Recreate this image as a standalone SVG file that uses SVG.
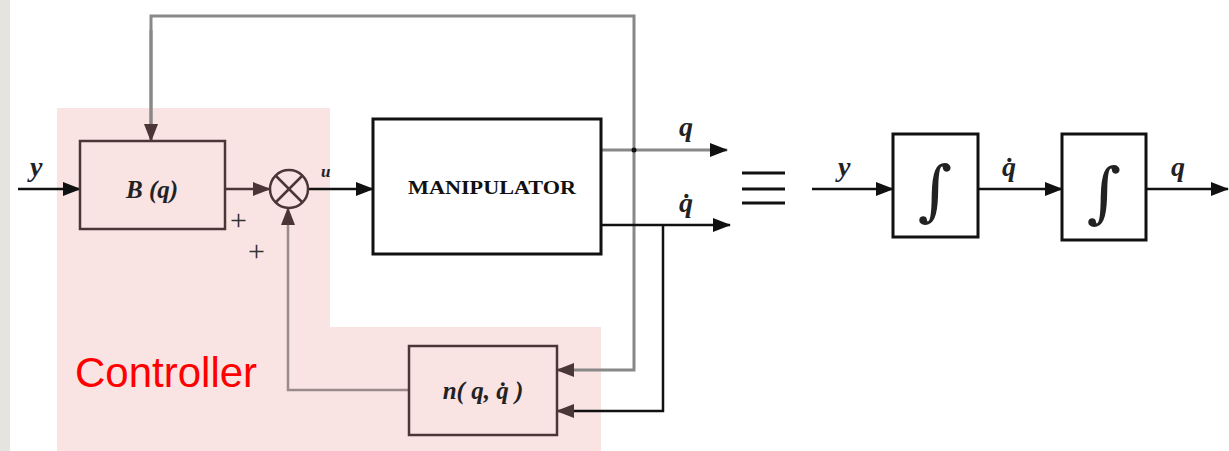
<svg xmlns="http://www.w3.org/2000/svg" width="1229" height="451" viewBox="0 0 1229 451">
<style>
.blk{fill:none;stroke:#111;stroke-width:2.5}
.box{fill:none;stroke:#111;stroke-width:3}
.cbox{fill:none;stroke:#4a3636;stroke-width:2.5}
.gray{fill:none;stroke:#888;stroke-width:3}
.brn{fill:none;stroke:#4a3636;stroke-width:2.5}
.fb{fill:none;stroke:#9a8a8a;stroke-width:2.5}
.math{font-family:"Liberation Serif",serif;font-style:italic;font-weight:bold;fill:#222}
.int{font-family:"DejaVu Serif",serif;fill:#222}
</style>
<defs>
<marker id="ab" markerWidth="18" markerHeight="14" refX="17" refY="7" orient="auto" markerUnits="userSpaceOnUse"><path d="M0,0 L18,7 L0,14 Z" fill="#111"/></marker>
<marker id="abr" markerWidth="18" markerHeight="14" refX="17" refY="7" orient="auto" markerUnits="userSpaceOnUse"><path d="M0,0 L18,7 L0,14 Z" fill="#4a3636"/></marker>
</defs>
<rect x="0" y="0" width="1229" height="451" fill="#fff"/>
<rect x="0" y="0" width="10" height="451" fill="#e6e4df"/>
<path d="M57,108 H330 V327 H601 V451 H57 Z" fill="#fae3e3"/>
<text x="75" y="387" font-family="Liberation Sans,Arial,sans-serif" font-size="42" fill="#f00">Controller</text>

<g id="connectors">
<line x1="18" y1="189" x2="80" y2="189" class="blk" marker-end="url(#ab)"/>
<line x1="225" y1="189" x2="270" y2="189" class="brn" marker-end="url(#abr)"/>
<line x1="308" y1="189" x2="373" y2="189" class="blk" marker-end="url(#ab)"/>
<polyline points="151,141 151,16 634,16 634,370 557,370" class="gray"/>
<line x1="151" y1="30" x2="151" y2="141" class="gray" marker-end="url(#abr)"/>
<line x1="600" y1="370" x2="557" y2="370" class="brn" stroke-opacity="0" marker-end="url(#abr)"/>
<line x1="601" y1="150" x2="727" y2="150" class="gray" stroke="#aaa" marker-end="url(#ab)"/>
<circle cx="634" cy="150" r="2.5" fill="#111"/>
<line x1="601" y1="225" x2="730" y2="225" class="blk" marker-end="url(#ab)"/>
<polyline points="663,225 663,411 557,411" class="blk"/>
<line x1="600" y1="411" x2="557" y2="411" class="brn" stroke-opacity="0" marker-end="url(#abr)"/>
<polyline points="409,390 288,390 288,208" class="fb"/>
<line x1="288" y1="240" x2="288" y2="208" class="brn" stroke-opacity="0" marker-end="url(#abr)"/>
<line x1="812" y1="189" x2="893" y2="189" class="blk" stroke-width="2" marker-end="url(#ab)"/>
<line x1="978" y1="189" x2="1062" y2="189" class="blk" stroke-width="2" marker-end="url(#ab)"/>
<line x1="1146" y1="189" x2="1228" y2="189" class="blk" stroke-width="2" marker-end="url(#ab)"/>
</g>

<g id="labels">
<text x="30" y="176" class="math" font-size="28">y</text>
<text x="321" y="177" class="math" font-size="17" font-style="normal">u</text>
<text x="679" y="136" class="math" font-size="28">q</text>
<text x="679" y="212" class="math" font-size="28">q̇</text>
<text x="838" y="176" class="math" font-size="28">y</text>
<text x="1002" y="176" class="math" font-size="28">q̇</text>
<text x="1171" y="176" class="math" font-size="28">q</text>
<text x="230" y="230" font-family="Liberation Serif,serif" font-size="30" fill="#333">+</text>
<text x="248" y="261" font-family="Liberation Serif,serif" font-size="30" fill="#333">+</text>
<g stroke="#111" stroke-width="3"><line x1="742" y1="173" x2="785" y2="173"/><line x1="742" y1="189" x2="785" y2="189"/><line x1="742" y1="203" x2="785" y2="203"/></g>
</g>

<g id="B">
<rect x="80" y="141" width="145" height="88" class="cbox"/>
<text x="152" y="198" class="math" font-size="25" font-weight="normal" text-anchor="middle" fill="#333">B (q)</text>
</g>
<g id="sum">
<circle cx="289" cy="189" r="19" class="brn"/>
<line x1="275.5" y1="175.5" x2="302.5" y2="202.5" class="brn" stroke-width="2"/>
<line x1="302.5" y1="175.5" x2="275.5" y2="202.5" class="brn" stroke-width="2"/>
</g>
<g id="manipulator">
<rect x="373" y="119" width="228" height="135" class="box"/>
<text x="492" y="194" font-family="Liberation Serif,serif" font-weight="bold" font-size="18" textLength="168" lengthAdjust="spacingAndGlyphs" text-anchor="middle" fill="#111">MANIPULATOR</text>
</g>
<g id="n">
<rect x="409" y="346" width="148" height="89" class="cbox"/>
<text x="483" y="399" class="math" font-size="25" font-weight="normal" text-anchor="middle" fill="#333">n( q, q̇ )</text>
</g>
<g id="int1">
<rect x="893" y="134" width="85" height="103" class="box"/>
<text x="935" y="213" class="int" font-size="66" text-anchor="middle">∫</text>
</g>
<g id="int2">
<rect x="1062" y="134" width="84" height="106" class="box"/>
<text x="1104" y="215" class="int" font-size="66" text-anchor="middle">∫</text>
</g>
</svg>
